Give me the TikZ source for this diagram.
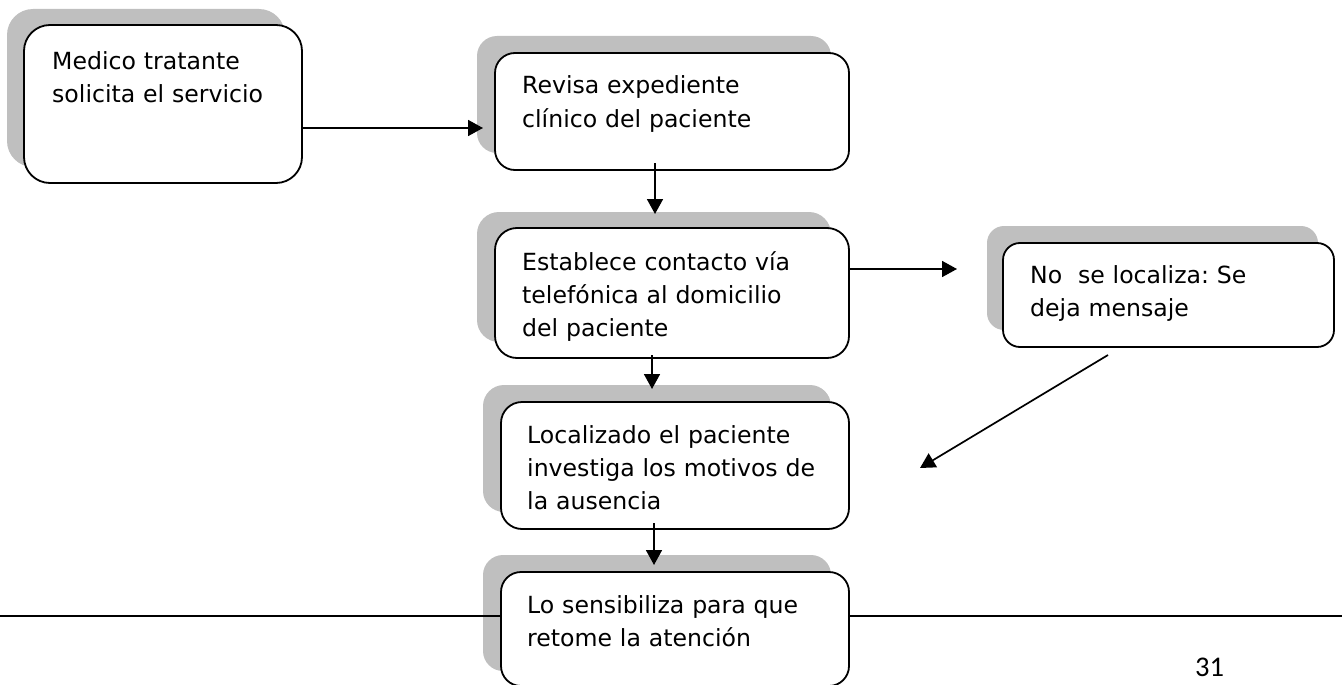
\documentclass[tikz,border=0pt]{standalone}
\usepackage{fontspec}
\setmainfont{DejaVu Sans}
\newfontfamily\pagenumfont{Carlito}
\usetikzlibrary{arrows.meta}
\definecolor{shadowgray}{HTML}{BFBFBF}
\frenchspacing
\tikzset{
  boxnode/.style={draw=black, line width=1.8pt, fill=white, anchor=north west, inner sep=0pt, outer sep=0pt},
  shadownode/.style={draw=none, fill=shadowgray, anchor=north west, inner sep=0pt, outer sep=0pt},
  boxtext/.style={anchor=base west, inner sep=0pt, align=left, text width=330pt, font=\fontsize{23.6}{33}\selectfont},
  arr/.style={line width=1.7pt, -{Triangle[length=15pt,width=16pt]}},
  rule/.style={line width=2.2pt}
}
\begin{document}
\begin{tikzpicture}[x=1pt,y=-1pt]
\useasboundingbox (0,0) rectangle (1342,685);
% shadows
\node[shadownode, minimum width=278pt, minimum height=158pt, rounded corners=26pt] (s1) at (7,9) {};
\node[shadownode, minimum width=354pt, minimum height=117pt, rounded corners=20pt] (s2) at (477,36) {};
\node[shadownode, minimum width=354pt, minimum height=130pt, rounded corners=22pt] (s3) at (477,212) {};
\node[shadownode, minimum width=331pt, minimum height=104pt, rounded corners=17pt] (s4) at (987,226) {};
\node[shadownode, minimum width=348pt, minimum height=127pt, rounded corners=21pt] (s5) at (483,385) {};
\node[shadownode, minimum width=348pt, minimum height=116pt, rounded corners=20pt] (s6) at (483,555) {};
% boxes
\node[boxnode, minimum width=278pt, minimum height=158pt, rounded corners=26pt] (b1) at (24,25) {};
\node[boxnode, minimum width=354pt, minimum height=117pt, rounded corners=20pt] (b2) at (495,53) {};
\node[boxnode, minimum width=354pt, minimum height=130pt, rounded corners=22pt] (b3) at (495,228) {};
\node[boxnode, minimum width=331pt, minimum height=104pt, rounded corners=17pt] (b4) at (1003,243) {};
\node[boxnode, minimum width=348pt, minimum height=127pt, rounded corners=21pt] (b5) at (501,402) {};
\node[boxnode, minimum width=348pt, minimum height=114pt, rounded corners=20pt] (b6) at (501,572) {};
% texts
\node[boxtext] (t1) at (52,70) {Medico tratante\\solicita el servicio};
\node[boxtext] (t2) at (522,94) {Revisa expediente\\clínico del paciente};
\node[boxtext] (t3) at (522,270) {Establece contacto vía\\telefónica al domicilio\\del paciente};
\node[boxtext] (t4) at (1030,283) {No\ \ se localiza: Se\\deja mensaje};
\node[boxtext] (t5) at (527,443) {Localizado el paciente\\investiga los motivos de\\la ausencia};
\node[boxtext] (t6) at (527,613) {Lo sensibiliza para que\\retome la atención};
% connector end points
\coordinate (e1) at (483,128);
\coordinate (f2) at (655,163);
\coordinate (e2) at (655,214);
\coordinate (e3) at (957,269);
\coordinate (f4) at (652,355);
\coordinate (e4) at (652,389);
\coordinate (f5) at (654,523);
\coordinate (e5) at (654,565);
\coordinate (f6) at (1108,355);
\coordinate (e6) at (920,468);
% connectors
\draw[arr] (b1.east |- e1) -- (e1);
\draw[arr] (f2) -- (e2);
\draw[arr] (b3.east |- e3) -- (e3);
\draw[arr] (f4) -- (e4);
\draw[arr] (f5) -- (e5);
\draw[arr] (f6) -- (e6);
% page rule and number
\coordinate (r0) at (0,616);
\coordinate (r1) at (1342,616);
\draw[rule] (r0) -- (b6.west |- r0);
\draw[rule] (b6.east |- r0) -- (r1);
\node[anchor=base west, inner sep=0pt, font=\pagenumfont\fontsize{28.5}{30}\selectfont] (pn) at (1195,676) {31};
\end{tikzpicture}
\end{document}
